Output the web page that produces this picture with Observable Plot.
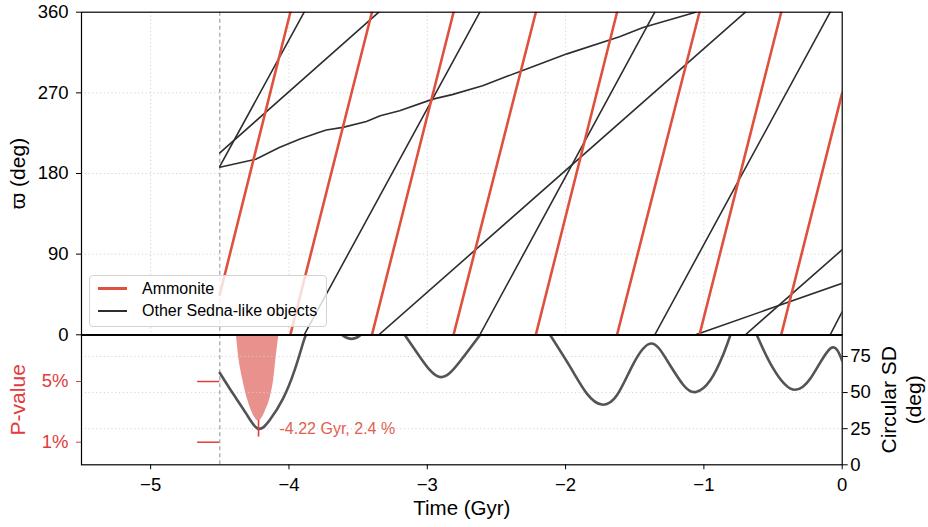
<!DOCTYPE html>
<html>
<head>
<meta charset="utf-8">
<script src="https://cdn.jsdelivr.net/npm/d3@7"></script>
<script src="https://cdn.jsdelivr.net/npm/@observablehq/plot@0.6"></script>
<style>
  body { margin: 0; background: #fff; }
  #wrap { position: relative; width: 928px; height: 527px; background: #fff; font-family: "Liberation Sans", Arial, sans-serif; }
  #wrap svg { position: absolute; left: 0; }
  .legend { position: absolute; left: 89px; top: 275px; width: 236px; height: 50px;
            border: 1px solid #d3d3d3; border-radius: 4px; background: rgba(255,255,255,0.8);
            font-size: 16px; color: #000; }
  .legend .row { position: absolute; left: 0; height: 20px; width: 100%; }
  .legend .sw { position: absolute; left: 8px; width: 29px; }
  .legend .lab { position: absolute; left: 52px; top: 0; line-height: 20px; white-space: nowrap; }
</style>
</head>
<body>
<div id="wrap"></div>
<script>
// ---------------- data ----------------
const timeDomain = [-5.5, 0];
const timeTicks = [-5, -4, -3, -2, -1, 0];
const varpiDomain = [0, 360];
const varpiTicks = [0, 90, 180, 270, 360];
const sdDomain = [0, 90];
const sdTicks = [0, 25, 50, 75];
const pDomain = [-0.49, 8.08];   // P-value axis range (%)
const pTicks = [5, 1];
const startTime = -4.5;          // dashed line
const pTickStart = -4.66;

const seriesNames = ["Ammonite", "Other Sedna-like objects"];
const varpiLabel = "ϖ (deg)";
const timeLabel = "Time (Gyr)";
const sdLabel = "Circular SD\n(deg)";
const pLabel = "P-value";

// Ammonite [time Gyr, varpi deg]; null = wrap
const ammonite = [
  [-4.50, 45], [-3.99, 360], null,
  [-3.99, 0], [-3.40, 360], null,
  [-3.40, 0], [-2.81, 360], null,
  [-2.81, 0], [-2.215, 360], null,
  [-2.215, 0], [-1.628, 360], null,
  [-1.628, 0], [-1.032, 360], null,
  [-1.032, 0], [-0.441, 360], null,
  [-0.441, 0], [0, 270]
];
// other Sedna-like objects
const sednaA = [
  [-4.50, 203], [-3.35, 360], null,
  [-3.35, 0], [-0.70, 360], null,
  [-0.70, 0], [0, 95]
];
const sednaB = [
  [-4.50, 188], [-3.89, 360], null,
  [-3.89, 0], [-2.62, 360], null,
  [-2.62, 0], [-1.355, 360], null,
  [-1.355, 0], [-0.087, 360], null,
  [-0.087, 0], [0, 26]
];
const sednaC = [
  [-4.50, 187], [-4.24, 196], [-4.07, 209], [-3.92, 218.5], [-3.78, 226], [-3.73, 228.5],
  [-3.61, 231.5], [-3.44, 238], [-3.34, 244.5], [-3.20, 250], [-2.96, 263], [-2.82, 268],
  [-2.60, 278], [-2.32, 294.5], [-1.99, 313.5], [-1.61, 332.5], [-1.44, 343], [-1.06, 360], null,
  [-1.06, 0], [0, 57.5]
];

// circular SD [time, deg]; null = above panel
const sdCurve = [
  [-4.50, 63.6], [-4.405, 49.3], [-4.309, 35.4], [-4.224, 25.0], [-4.14, 30.8], [-4.043, 45.8],
  [-3.959, 65.5], [-3.899, 84.0], [-3.87, 92], null,
  [-3.63, 91], [-3.59, 88.3], [-3.548, 87.2], [-3.505, 88.3], [-3.465, 91], null,
  [-3.178, 92], [-3.053, 74.7], [-2.909, 60.8], [-2.764, 71.5], [-2.602, 92], null,
  [-2.126, 92], [-1.967, 67.8], [-1.846, 49.3], [-1.738, 41.7], [-1.629, 48.1], [-1.509, 70.1],
  [-1.383, 84.0], [-1.267, 72.4], [-1.147, 55.1], [-1.057, 50.4], [-0.954, 58.5], [-0.857, 77.1],
  [-0.801, 92], null,
  [-0.627, 92], [-0.519, 70.1], [-0.374, 52.8], [-0.23, 59.7], [-0.085, 80.6], [0, 72]
];

// P-value (%) near the minimum
const pCurve = [
  [-4.385, 8.6], [-4.369, 7.04], [-4.333, 5.07], [-4.304, 3.97], [-4.272, 3.09], [-4.245, 2.6],
  [-4.22, 2.4], [-4.195, 2.6], [-4.169, 3.09], [-4.135, 3.97], [-4.111, 5.07], [-4.087, 7.04], [-4.065, 8.6]
];
const minimum = {t: -4.22, p: 2.4, sd: 25.0};

// ---------------- styling ----------------
const RED = "#e0503f";
const PRED = "#e23b3b";
const ANN = "#e2604f";
const FILL = "#e9918c";
const BLACKLINE = "#2e2e2e";
const SDLINE = "#545454";
const GRID = {stroke: "#cfcfcf", strokeOpacity: 1, strokeDasharray: "1.2,2.6", strokeWidth: 0.9};
const FONT = "\"Liberation Sans\", Arial, sans-serif";
const TICKFS = 18.5;

const toRows = (arr, extra = {}) => arr.map(p => p ? {t: p[0], v: p[1], ...extra} : {t: NaN, v: NaN, ...extra});
const ammoniteRows = toRows(ammonite);
const sednaRows = [...toRows(sednaA, {id: "A"}), ...toRows(sednaB, {id: "B"}), ...toRows(sednaC, {id: "C"})];
const sdRows = toRows(sdCurve);
const pRows = toRows(pCurve);

const wrap = document.getElementById("wrap");
const baseStyle = {fontFamily: FONT, color: "black", background: "transparent", overflow: "visible"};

// ---------------- bottom panel: P-value layer ----------------
const pPlot = Plot.plot({
  width: 928, height: 193,
  marginLeft: 81, marginRight: 86.3, marginTop: 0.3, marginBottom: 62.7,
  x: {domain: timeDomain, axis: null},
  y: {domain: pDomain},
  style: baseStyle,
  marks: [
    Plot.areaY(pRows, {x: "t", y1: "v", y2: pDomain[1], fill: FILL, curve: "monotone-x", clip: true}),
    Plot.ruleY(pTicks, {x1: pTickStart, x2: startTime, stroke: PRED, strokeWidth: 1.5}),
    Plot.axisY({ticks: pTicks, tickFormat: d => d + "%", color: PRED, tickSize: 5, tickPadding: 8, fontSize: TICKFS, label: null}),
    Plot.text([pLabel], {text: d => d, frameAnchor: "left", textAnchor: "middle", dx: -63, rotate: -90, fontSize: 21, lineAnchor: "middle", fill: PRED})
  ]
});
pPlot.style.top = "334px";
wrap.appendChild(pPlot);

// ---------------- bottom panel: circular SD layer ----------------
const sdPlot = Plot.plot({
  width: 928, height: 193,
  marginLeft: 81, marginRight: 86.3, marginTop: 0.3, marginBottom: 62.7,
  x: {domain: timeDomain},
  y: {domain: sdDomain},
  style: baseStyle,
  marks: [
    Plot.gridY({ticks: sdTicks.slice(1), ...GRID}),
    Plot.ruleX([startTime], {stroke: "#999", strokeDasharray: "4,3", strokeWidth: 1.1}),
    Plot.line(sdRows, {x: "t", y: "v", stroke: SDLINE, strokeWidth: 2.6, curve: "natural", clip: true}),
    Plot.ruleX([minimum], {x: "t", y1: d => d.sd - 5.8, y2: d => d.sd + 5.8, stroke: PRED, strokeWidth: 1.6}),
    Plot.text([minimum], {x: "t", y: "sd", text: d => `${d.t} Gyr, ${d.p} %`, dx: 21, textAnchor: "start", lineAnchor: "middle", fill: ANN, fontSize: 16}),
    Plot.frame({stroke: "black", strokeWidth: 1.2}),
    Plot.ruleY([sdDomain[1]], {stroke: "black", strokeWidth: 1.8}),
    Plot.axisY({anchor: "right", ticks: sdTicks, tickSize: 5, tickPadding: 3, fontSize: TICKFS, label: null}),
    Plot.axisX({ticks: timeTicks, tickFormat: d3.format("d"), tickSize: 5, tickPadding: 8, fontSize: TICKFS, label: null}),
    Plot.text([timeLabel], {text: d => d, frameAnchor: "bottom", textAnchor: "middle", dy: 44, fontSize: 20.5, lineAnchor: "middle"}),
    Plot.text([sdLabel], {text: d => d, frameAnchor: "right", textAnchor: "middle", dx: 58, rotate: -90, fontSize: 21, lineHeight: 1.2, lineAnchor: "middle"})
  ]
});
sdPlot.style.top = "334px";
wrap.appendChild(sdPlot);

// ---------------- top panel ----------------
const topPlot = Plot.plot({
  width: 928, height: 336,
  marginLeft: 81, marginRight: 86.3, marginTop: 11.7, marginBottom: 1.7,
  x: {domain: timeDomain, axis: null},
  y: {domain: varpiDomain},
  style: baseStyle,
  marks: [
    Plot.gridX({ticks: timeTicks.slice(0, -1), ...GRID}),
    Plot.gridY({ticks: varpiTicks.slice(1, -1), ...GRID}),
    Plot.ruleX([startTime], {stroke: "#999", strokeDasharray: "4,3", strokeWidth: 1.1}),
    Plot.line(sednaRows, {x: "t", y: "v", z: "id", stroke: BLACKLINE, strokeWidth: 1.6, clip: true}),
    Plot.line(ammoniteRows, {x: "t", y: "v", stroke: RED, strokeWidth: 2.6, clip: true}),
    Plot.frame({stroke: "black", strokeWidth: 1.2}),
    Plot.ruleY([varpiDomain[0]], {stroke: "black", strokeWidth: 1.8}),
    Plot.axisY({ticks: varpiTicks, tickSize: 5, tickPadding: 8, fontSize: TICKFS, label: null}),
    Plot.text([varpiLabel], {text: d => d, frameAnchor: "left", textAnchor: "middle", dx: -63, rotate: -90, fontSize: 21, lineAnchor: "middle"})
  ]
});
topPlot.style.top = "0px";
wrap.appendChild(topPlot);

// ---------------- legend ----------------
const legend = document.createElement("div");
legend.className = "legend";
const legendItems = [
  {name: seriesNames[0], color: RED, w: 2.2, top: 2.5},
  {name: seriesNames[1], color: BLACKLINE, w: 1.6, top: 24.8}
];
for (const it of legendItems) {
  const row = document.createElement("div");
  row.className = "row";
  row.style.top = it.top + "px";
  const sw = document.createElement("div");
  sw.className = "sw";
  sw.style.height = it.w + "px";
  sw.style.top = (10 - it.w / 2) + "px";
  sw.style.background = it.color;
  const lab = document.createElement("div");
  lab.className = "lab";
  lab.textContent = it.name;
  row.appendChild(sw);
  row.appendChild(lab);
  legend.appendChild(row);
}
wrap.appendChild(legend);
</script>
</body>
</html>
